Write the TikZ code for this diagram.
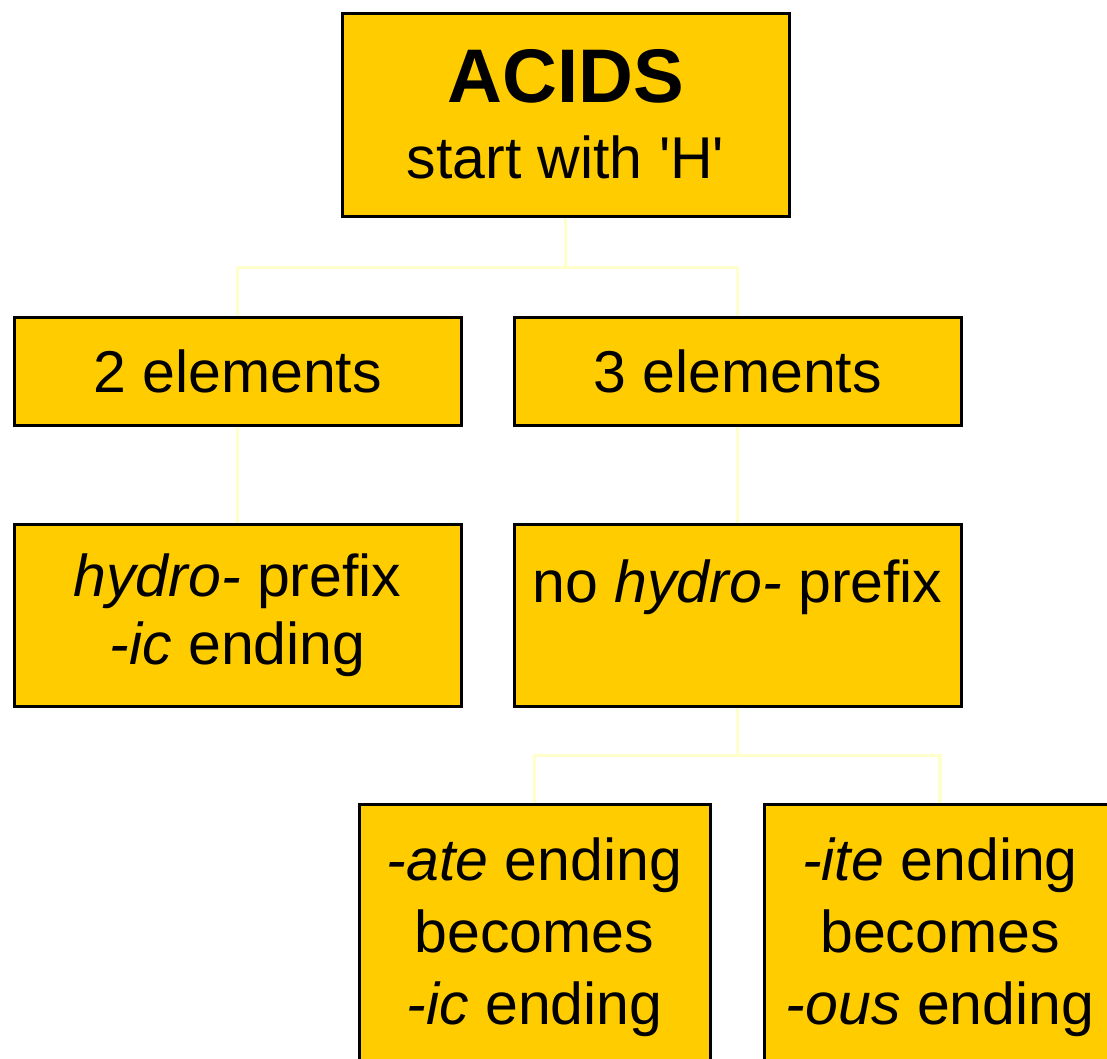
\documentclass[tikz,border=0pt]{standalone}
\usepackage{fontspec}
\setmainfont{Liberation Sans}[Ligatures=TeXOff]
\definecolor{boxyellow}{RGB}{255,204,0}
\definecolor{connyellow}{RGB}{255,255,204}
\tikzset{
  box/.style={draw=black, line width=3pt, fill=boxyellow, inner sep=0pt, align=center,
    minimum width=447pt, font={\fontsize{59}{68}\selectfont}},
  lowbox/.style={box, minimum width=351pt, font={\fontsize{59}{72}\selectfont}},
  conn/.style={draw=connyellow, line width=3.5pt}
}
\begin{document}
\begin{tikzpicture}[x=1pt,y=-1pt]
\useasboundingbox (0,0) rectangle (1107,1058);
\clip (0,0) rectangle (1107,1058);
\node[box, minimum height=203pt] (acids) at (565.5,114.5)
  {{\fontsize{76}{80}\selectfont\bfseries ACIDS}\\[8pt] start with 'H'};
\node[box, minimum height=108pt] (two) at (237.5,371) {2 elements};
\node[box, minimum height=108pt] (three) at (737.5,371) {3 elements};
\node[box, minimum height=182pt] (hydro) at (237.5,615) {\textit{hydro-} prefix\\\textit{-ic} ending};
\node[box, minimum height=182pt] (nohydro) at (737.5,615) {no \textit{hydro-} prefix\\\mbox{}};
\node[lowbox, minimum height=266pt] (ate) at (534.5,937) {\textit{-ate} ending\\becomes\\\textit{-ic} ending};
\node[lowbox, minimum height=266pt] (ite) at (940,937) {\textit{-ite} ending\\becomes\\\textit{-ous} ending};
\draw[conn] (acids.south) -- ([yshift=-50pt]acids.south) -| (two.north);
\draw[conn] ([yshift=-50pt]acids.south) -| (three.north);
\draw[conn] (two.south) -- (hydro.north);
\draw[conn] (three.south) -- (nohydro.north);
\draw[conn] (nohydro.south) -- ([yshift=-48pt]nohydro.south) -| (ate.north);
\draw[conn] ([yshift=-48pt]nohydro.south) -| (ite.north);
\end{tikzpicture}
\end{document}
